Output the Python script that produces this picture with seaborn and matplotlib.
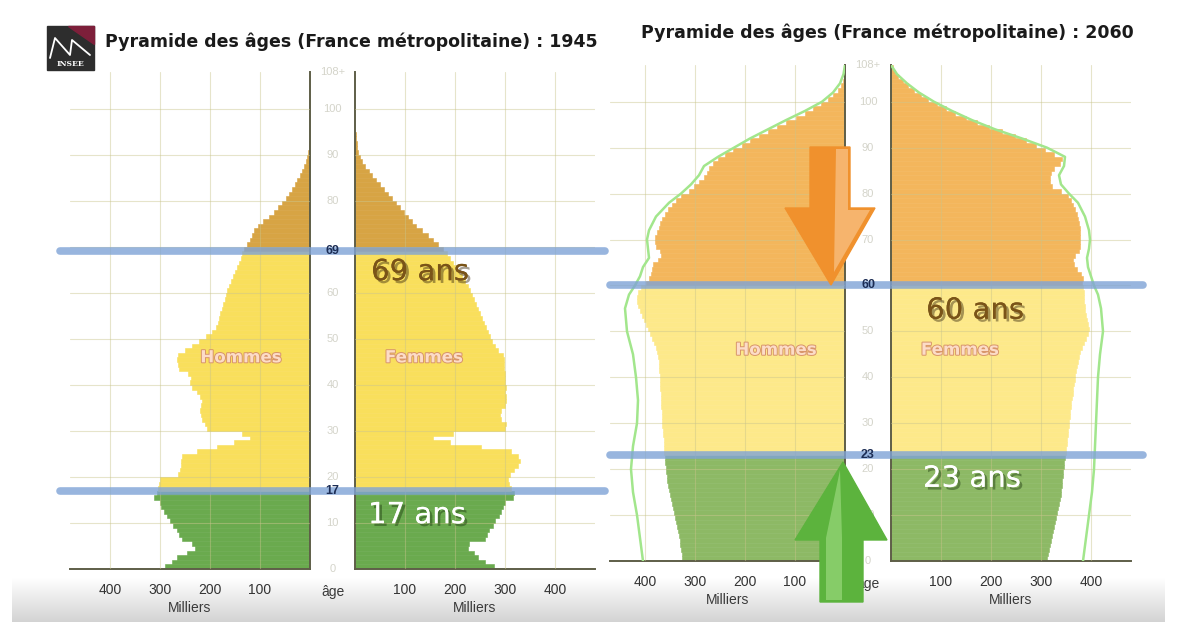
import matplotlib
matplotlib.use('Agg')
import matplotlib.pyplot as plt
import matplotlib.patheffects as pe
import matplotlib.transforms as mtransforms
from matplotlib.patches import Polygon, Rectangle
from matplotlib.colors import LinearSegmentedColormap
import numpy as np
import pandas as pd
import seaborn as sns

ages_1945 = np.arange(0, 95)
hommes_1945 = [290, 276, 266, 246, 230, 236, 256, 262, 266, 274,
               280, 286, 292, 298, 300, 312, 306, 304, 302, 300,
               264, 260, 258, 258, 256, 226, 186, 152, 120, 136,
               206, 210, 216, 218, 220, 218, 216, 220, 226, 236,
               240, 238, 244, 262, 264, 266, 264, 250, 236, 222,
               208, 196, 188, 184, 182, 180, 176, 174, 170, 168,
               166, 162, 158, 154, 150, 146, 142, 139, 136, 132,
               126, 120, 116, 112, 104, 94, 82, 72, 64, 56,
               48, 42, 36, 31, 26, 21, 17, 13, 9, 6,
               4, 3, 2, 1, 1]
femmes_1945 = [278, 260, 246, 238, 226, 228, 260, 264, 268, 276,
               280, 288, 292, 296, 300, 316, 318, 312, 308, 306,
               310, 318, 326, 330, 326, 312, 252, 190, 156, 196,
               300, 302, 292, 290, 292, 300, 302, 302, 300, 302,
               300, 300, 300, 298, 298, 298, 296, 286, 280, 274,
               270, 266, 262, 258, 254, 250, 246, 242, 238, 234,
               230, 226, 220, 214, 208, 202, 196, 190, 184, 176,
               166, 156, 146, 134, 122, 114, 106, 98, 90, 82,
               74, 66, 58, 50, 42, 34, 27, 20, 14, 9,
               6, 4, 3, 2, 1]
seuils_1945 = (17, 69)

# ---- 2060 : projection ----
ages_2060 = np.arange(0, 108)
hommes_2060 = [326, 327, 328, 330, 331, 333, 335, 337, 339, 341,
               343, 345, 347, 349, 351, 353, 355, 356, 357, 358,
               359, 360, 361, 362, 362, 363, 363, 364, 365, 366,
               366, 367, 367, 368, 368, 369, 369, 370, 370, 371,
               371, 372, 372, 373, 374, 376, 378, 382, 386, 390,
               394, 398, 402, 406, 410, 414, 416, 416, 414, 408,
               398, 392, 388, 386, 384, 374, 368, 370, 378, 380,
               380, 377, 373, 370, 366, 360, 354, 346, 338, 328,
               312, 302, 292, 282, 277, 272, 265, 254, 240, 224,
               206, 190, 172, 154, 136, 118, 98, 80, 64, 48,
               34, 23, 14, 8, 4, 2, 1, 1]
femmes_2060 = [312, 313, 315, 317, 319, 321, 323, 325, 327, 329,
               331, 333, 335, 337, 339, 340, 341, 342, 343, 344,
               345, 346, 347, 349, 350, 351, 352, 353, 354, 355,
               356, 357, 358, 359, 360, 362, 363, 364, 366, 367,
               368, 370, 372, 374, 376, 378, 382, 386, 390, 394,
               396, 394, 392, 390, 388, 387, 386, 386, 385, 384,
               382, 384, 380, 372, 366, 364, 368, 376, 378, 378,
               378, 378, 377, 376, 374, 372, 368, 364, 360, 354,
               340, 322, 318, 318, 320, 326, 338, 342, 326, 308,
               290, 270, 248, 222, 196, 172, 150, 128, 110, 92,
               74, 60, 46, 34, 24, 14, 8, 4]
seuils_2060 = (23, 60)

# autre scenario (contour vert clair)
ages_contour = [0, 5, 10, 15, 20, 25, 30, 35, 40, 45, 50, 55, 58, 60, 62, 64, 66, 68,
                70, 72, 75, 78, 80, 82, 84, 86, 88, 90, 92, 94, 96, 98, 100, 102, 104, 106, 108]
hommes_contour = [404, 410, 416, 424, 428, 424, 416, 414, 418, 424, 436, 440, 432, 420, 410, 404, 392, 394,
                  396, 392, 378, 352, 328, 308, 292, 282, 254, 222, 190, 154, 118, 80, 46, 24, 10, 3, 0]
femmes_contour = [384, 390, 396, 402, 406, 408, 410, 412, 414, 418, 424, 420, 414, 406, 400, 394, 392, 396,
                  398, 396, 388, 374, 356, 340, 336, 346, 348, 312, 262, 208, 162, 122, 86, 56, 32, 12, 0]

ticks_milliers = [100, 200, 300, 400]
ticks_ages = list(range(0, 101, 10))

couleurs_1945 = {'jeunes': '#6aaa4e', 'adultes': '#f9df5c', 'ages': '#d7a444'}
couleurs_2060 = {'jeunes': '#8db965', 'adultes': '#fde98a', 'ages': '#f3b65c'}

sns.set_theme(style='white')
plt.rcParams['font.family'] = ['Liberation Sans', 'DejaVu Sans']

W, H = 1200, 644
fig = plt.figure(figsize=(12, 6.44), dpi=100)


def px_axes(left, top, right, bottom, **kw):
    return fig.add_axes([left / W, (H - bottom) / H, (right - left) / W, (bottom - top) / H], **kw)


# fond degrade en bas (cadre video)
ax_bg = px_axes(0, 0, W, H, zorder=-5)
fade = LinearSegmentedColormap.from_list('fade', ['#ffffff', '#d3d3d3'])
ax_bg.imshow(np.linspace(0, 1, 64).reshape(-1, 1), cmap=fade, extent=[12, 1165, 622, 578], aspect='auto')
ax_bg.set_xlim(0, W)
ax_bg.set_ylim(H, 0)
ax_bg.axis('off')


def draw_half(ax, ages, values, seuils, palette, side, xmax):
    ages = np.asarray(ages)
    groupe = np.where(ages < seuils[0], 'jeunes', np.where(ages < seuils[1], 'adultes', 'ages'))
    df = pd.DataFrame({'age': ages + 0.5, 'milliers': values, 'groupe': groupe})
    sns.barplot(data=df, x='milliers', y='age', hue='groupe', hue_order=['jeunes', 'adultes', 'ages'],
                palette=palette, saturation=1, orient='y', native_scale=True, dodge=False, width=1,
                errorbar=None, legend=False, ax=ax)
    for p in ax.patches:
        p.set_edgecolor(p.get_facecolor())
        p.set_linewidth(0.4)
    ax.set_ylim(0, 108)
    if side == 'h':
        ax.set_xlim(xmax, 0)
    else:
        ax.set_xlim(0, xmax)
    ax.set_xticks(ticks_milliers)
    ax.set_yticks(ticks_ages[1:])
    ax.set_yticklabels([])
    ax.set_ylabel('')
    ax.set_xlabel('Milliers', fontsize=10, color='#3a3a3a', labelpad=3)
    ax.tick_params(axis='x', length=0, pad=10, labelsize=10, labelcolor='#333333')
    ax.tick_params(axis='y', length=0)
    ax.grid(True, color='#c9c48a', alpha=0.45, lw=0.8)
    ax.set_axisbelow(False)
    ax.patch.set_alpha(0)
    inner = 'right' if side == 'h' else 'left'
    for s in ['top', 'left', 'right', 'bottom']:
        ax.spines[s].set_visible(s in (inner, 'bottom'))
        ax.spines[s].set_color('#5e5e48')
        ax.spines[s].set_linewidth(1.4)
    label = 'Hommes' if side == 'h' else 'Femmes'
    ax.text(138, 46, label, ha='center', va='center', fontsize=12, fontweight='bold',
            family='DejaVu Sans', color='#fcdcc8', zorder=5,
            path_effects=[pe.Stroke(linewidth=1.4, foreground='#d8956a'), pe.Normal()])


panels = [
    dict(annee=1945, m=(70, 72, 310, 569), f=(355, 72, 595, 569), hommes=hommes_1945, femmes=femmes_1945,
         ages=ages_1945, seuils=seuils_1945, pal=couleurs_1945, xmax_h=480, line=(60, 605),
         title_xy=(105, 42), big=[(130, 64.5, '69 ans', '#7a5418'), (124, 11.7, '17 ans', '#ffffff')]),
    dict(annee=2060, m=(610, 65, 845, 561), f=(891, 65, 1131, 561), hommes=hommes_2060, femmes=femmes_2060,
         ages=ages_2060, seuils=seuils_2060, pal=couleurs_2060, xmax_h=470, line=(610, 1143),
         title_xy=(641, 33), big=[(168, 54.5, '60 ans', '#7a5418'), (162, 17.9, '23 ans', '#ffffff')]),
]

ax_ov = px_axes(0, 0, W, H, zorder=10)
ax_ov.set_xlim(0, W)
ax_ov.set_ylim(H, 0)
ax_ov.axis('off')

for pnl in panels:
    ax_m = px_axes(*pnl['m'])
    ax_f = px_axes(*pnl['f'])
    draw_half(ax_m, pnl['ages'], pnl['hommes'], pnl['seuils'], pnl['pal'], 'h', pnl['xmax_h'])
    draw_half(ax_f, pnl['ages'], pnl['femmes'], pnl['seuils'], pnl['pal'], 'f', 480)

    if pnl['annee'] == 2060:
        ax_m.plot(hommes_contour, ages_contour, color='#a2e68c', lw=1.8, zorder=4)
        ax_f.plot(femmes_contour, ages_contour, color='#a2e68c', lw=1.8, zorder=4)

    for x, y, txt, col in pnl['big']:
        shadow = '#3a2a10' if col != '#ffffff' else '#1e3a10'
        ax_f.text(x, y, txt, ha='center', va='center', fontsize=21, color=col, family='DejaVu Sans',
                  zorder=6, path_effects=[pe.withSimplePatchShadow(offset=(2, -2), shadow_rgbFace=shadow,
                                                                   alpha=0.45), pe.Normal()])

    mid = (pnl['m'][2] + pnl['f'][0]) / 2
    trans = mtransforms.blended_transform_factory(ax_ov.transData, ax_m.transData)
    for a in ticks_ages:
        # le libelle d'age cache par le seuil n'est pas affiche
        if min(abs(a - s) for s in pnl['seuils']) < 3:
            continue
        ax_ov.text(mid, a, str(a), transform=trans, ha='center', va='center', fontsize=8, color='#d4d4ca')
    ax_ov.text(mid, 108, '108+', transform=trans, ha='center', va='center', fontsize=8, color='#d4d4ca')
    ax_ov.text(mid, pnl['m'][3] + 23, 'âge', ha='center', va='center', fontsize=10, color='#3a3a3a')

    for s in pnl['seuils']:
        ax_ov.plot(pnl['line'], [s, s], transform=trans, color='#7fa3d6', lw=5.5, alpha=0.8,
                   solid_capstyle='round', zorder=3)
        ax_ov.text(mid, s, str(s), transform=trans, ha='center', va='center', fontsize=9,
                   fontweight='bold', color='#1c2d55', zorder=4)

    tx, ty = pnl['title_xy']
    ax_ov.text(tx, ty, 'Pyramide des âges (France métropolitaine) : %d' % pnl['annee'],
               ha='left', va='center', fontsize=12.5, fontweight='bold', family='DejaVu Sans',
               color='#1a1a1a')

# logo INSEE
ax_ov.add_patch(Rectangle((47, 26), 47, 44, color='#2d2d2d', zorder=6))
ax_ov.add_patch(Polygon([(68, 26), (94, 26), (94, 44)], closed=True, color='#7d1f3a', zorder=6))
ax_ov.plot([50, 55, 70, 72, 90], [58, 38, 55, 40, 55], color='white', lw=1.3, zorder=7)
ax_ov.text(70.5, 64, 'INSEE', ha='center', va='center', fontsize=5.5, color='white',
           family='DejaVu Serif', fontweight='bold', zorder=7)

# fleches 2060
ax_ov.add_patch(Polygon([(810, 147), (850, 147), (850, 208), (875, 208), (831, 285), (785, 208), (810, 208)],
                        closed=True, color='#f0912d', zorder=8))
ax_ov.add_patch(Polygon([(836, 149), (848, 149), (848, 210), (870, 210), (834, 272)],
                        closed=True, color='#fbd2a2', alpha=0.55, zorder=8, lw=0))
ax_ov.add_patch(Polygon([(843, 462), (887, 540), (863, 540), (863, 602), (820, 602), (820, 540), (795, 540)],
                        closed=True, color='#5cb33d', zorder=8))
ax_ov.add_patch(Polygon([(826, 538), (840, 470), (842, 538), (842, 600), (826, 600)],
                        closed=True, color='#a3de86', alpha=0.6, zorder=8, lw=0))

fig.savefig('out.png', dpi=100)
